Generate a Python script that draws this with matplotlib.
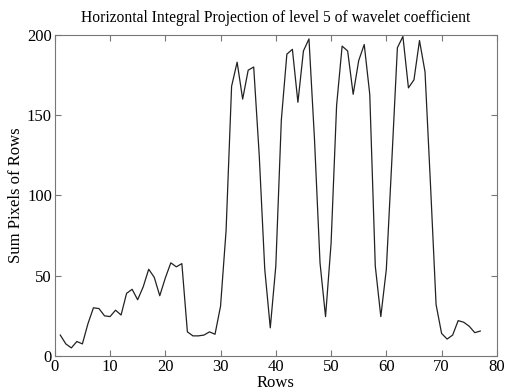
import numpy as np
import matplotlib
matplotlib.use("Agg")
import matplotlib.pyplot as plt

plt.rcParams["font.family"] = ["Liberation Serif", "DejaVu Serif"]

# row index and summed pixel values
rows = list(range(1, 78))
row_sums = [
    13, 7.5, 5, 9, 7.5, 20, 30, 29.5, 25, 24.5,
    28.5, 25.5, 39, 41.5, 35, 43, 54, 49, 37.5, 48.5,
    58, 55.5, 57.5, 15, 12.5, 12.5, 13, 15, 13.5, 31,
    78, 168, 183, 160, 178, 180, 125, 54, 17.5, 56,
    147, 188, 191, 158, 190, 197.5, 135, 58, 24.5, 70,
    156, 193, 190, 163, 184, 194, 163, 56, 24.5, 54,
    122, 192, 199, 167, 172, 196.5, 177, 106, 32, 14,
    10.5, 13, 22, 21, 18.5, 14.5, 15.5,
]

fig = plt.figure(figsize=(5.07, 3.92), dpi=100)
ax = fig.add_axes([0.108, 0.092, 0.872, 0.819])

ax.plot(rows, row_sums, color="#222222", linewidth=0.9)

ax.set_xlim(0, 80)
ax.set_ylim(0, 200)
ax.set_xticks(np.arange(0, 81, 10))
ax.set_yticks(np.arange(0, 201, 50))
ax.tick_params(direction="in", top=True, right=True, length=4,
               labelsize=12, color="#777777", pad=2)
for s in ax.spines.values():
    s.set_color("#777777")
    s.set_linewidth(0.8)

ax.set_title("Horizontal Integral Projection of level 5 of wavelet coefficient",
             fontsize=11.2, pad=9)
ax.set_xlabel("Rows", fontsize=12, labelpad=0)
ax.set_ylabel("Sum Pixels of Rows", fontsize=12, labelpad=2)

fig.savefig("out.png", dpi=100)
